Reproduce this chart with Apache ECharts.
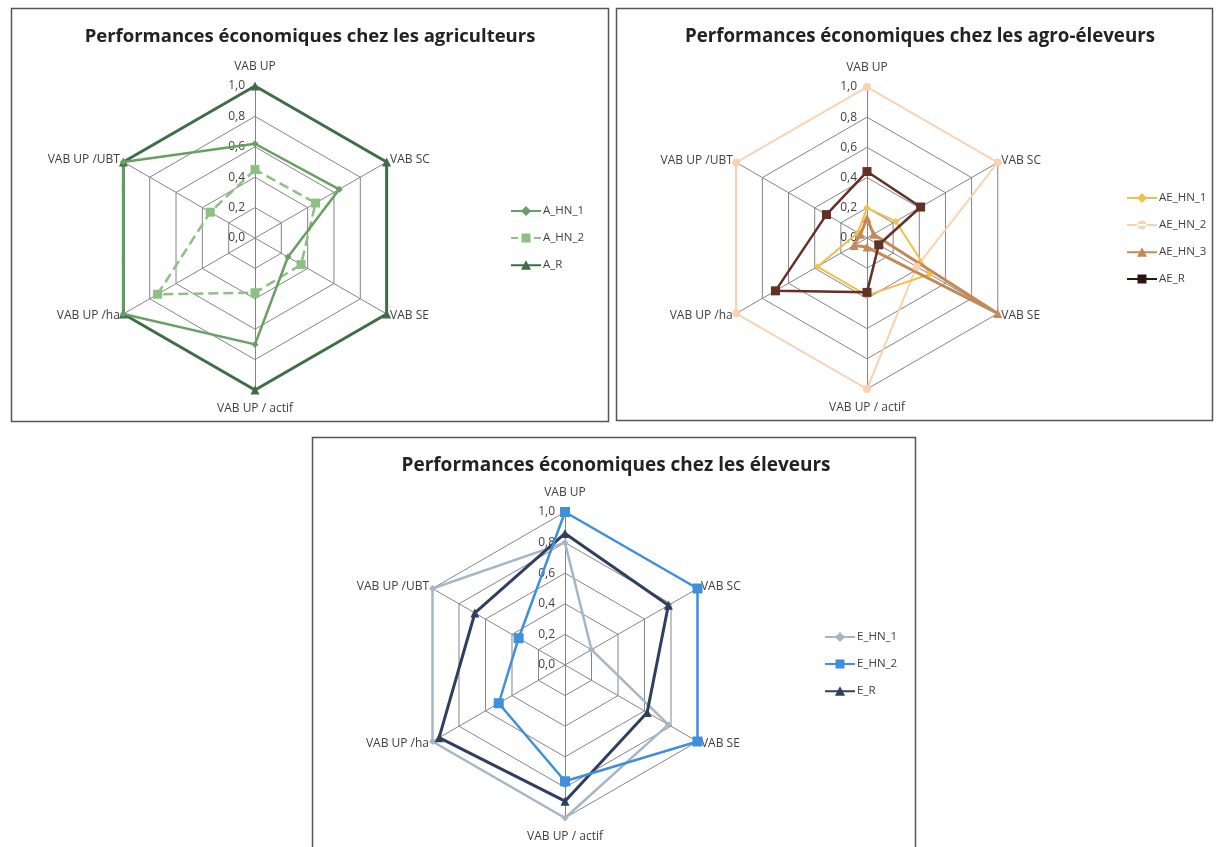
<!DOCTYPE html>
<html>
<head>
<meta charset="utf-8">
<script src="https://cdn.jsdelivr.net/npm/echarts@6/dist/echarts.min.js"></script>
<style>
  html, body { margin: 0; padding: 0; background: #ffffff; }
  #chart { width: 1218px; height: 847px; }
</style>
</head>
<body>
<div id="chart"></div>
<script>
// Axes of every radar, listed clockwise from the top
const categories = ['VAB UP', 'VAB SC', 'VAB SE', 'VAB UP / actif', 'VAB UP /ha', 'VAB UP /UBT'];
const tickLabels = ['0,0', '0,2', '0,4', '0,6', '0,8', '1,0'];

// Agriculteurs
const A_HN_1 = [0.62, 0.64, 0.25, 0.70, 1.00, 1.00];
const A_HN_2 = [0.45, 0.46, 0.35, 0.36, 0.74, 0.34];
const A_R    = [1.00, 1.00, 1.00, 1.00, 1.00, 1.00];

// Agro-éleveurs
const AE_HN_1 = [0.20, 0.22, 0.48, 0.38, 0.38, 0.07];
const AE_HN_2 = [1.00, 1.00, 0.38, 1.00, 1.00, 1.00];
const AE_HN_3 = [0.13, 0.05, 1.00, 0.06, 0.10, 0.05];
const AE_R    = [0.44, 0.41, 0.09, 0.36, 0.70, 0.31];

// Éleveurs
const E_HN_1 = [0.80, 0.20, 0.78, 1.00, 1.00, 1.00];
const E_HN_2 = [1.00, 1.00, 1.00, 0.76, 0.50, 0.35];
const E_R    = [0.86, 0.78, 0.62, 0.89, 0.95, 0.68];

// ECharts lays radar indicators out counter-clockwise; reorder so they read clockwise
function clockwise(arr) {
  return [arr[0]].concat(arr.slice(1).reverse());
}

const FONT = "'Open Sans', 'Liberation Sans', sans-serif";
const GRID = '#858585';
const TEXT = '#404040';

function radarAt(center, radius) {
  return {
    center: center,
    radius: radius,
    startAngle: 90,
    splitNumber: 5,
    shape: 'polygon',
    indicator: clockwise(categories).map((name, i) => ({
      name: name,
      min: 0,
      max: 1,
      axisLabel: { show: i === 0 }
    })),
    axisName: {
      color: TEXT,
      fontFamily: FONT,
      fontSize: 12,
      formatter: (name) => {
        if (name === 'VAB UP') return '{top|' + name + '}';
        if (name === 'VAB UP / actif') return '{bottom|' + name + '}';
        return name;
      },
      rich: {
        top: { padding: [0, 0, 9, 0], fontFamily: FONT, fontSize: 12, color: TEXT },
        bottom: { padding: [9, 0, 0, 0], fontFamily: FONT, fontSize: 12, color: TEXT }
      }
    },
    nameGap: 4,
    axisLine: { show: true, lineStyle: { color: GRID, width: 1 } },
    splitLine: { show: true, lineStyle: { color: GRID, width: 1 } },
    splitArea: { show: false },
    axisTick: { show: false },
    axisLabel: {
      show: false,
      color: TEXT,
      fontFamily: FONT,
      fontSize: 12,
      margin: 10,
      formatter: (v) => tickLabels[Math.round(v / 0.2)]
    }
  };
}

// Legend icons: a short line with the series marker in the middle
const ICON = {
  diamond:  'path://M0,4H30V6H0Z M15,0L20,5L15,10L10,5Z',
  square:   'path://M0,4H30V6H0Z M10.5,0.5H19.5V9.5H10.5Z',
  dashSq:   'path://M0,4H7V6H0Z M23,4H30V6H23Z M10.5,0.5H19.5V9.5H10.5Z',
  triangle: 'path://M0,4H30V6H0Z M15,0L20,9.5L10,9.5Z',
  circle:   'path://M0,4H30V6H0Z M10.5,5A4.5,4.5 0 1,0 19.5,5A4.5,4.5 0 1,0 10.5,5Z'
};

function series(radarIndex, name, values, color, symbol, symbolSize, width, dashed) {
  return {
    type: 'radar',
    radarIndex: radarIndex,
    name: name,
    symbol: symbol,
    symbolSize: symbolSize,
    itemStyle: { color: color },
    lineStyle: { color: color, width: width, type: dashed ? 'dashed' : 'solid' },
    areaStyle: null,
    z: 2,
    data: [{ name: name, value: clockwise(values) }]
  };
}

function legendAt(left, top, items) {
  return {
    orient: 'vertical',
    left: left,
    top: top,
    itemWidth: 30,
    itemHeight: 10,
    itemGap: 15,
    textStyle: { color: TEXT, fontFamily: FONT, fontSize: 11.5, padding: [0, 0, 0, -3] },
    data: items.map(([name, icon, color]) => ({
      name: name,
      icon: ICON[icon],
      itemStyle: { color: color, borderWidth: 0 }
    }))
  };
}

function titleAt(text, cx, top, size) {
  return {
    text: text,
    left: cx,
    top: top,
    textAlign: 'center',
    textStyle: { fontFamily: FONT, fontWeight: 'bold', fontSize: size, color: '#222222' }
  };
}

const C = {
  a1: '#67a062', a2: '#8dc083', ar: '#3e6e48',
  ae1: '#f0c04c', ae2: '#f9d2b2', ae3: '#c48a55', aer: '#642f24',
  e1: '#a4b6c8', e2: '#3f8fdf', er: '#2e3f60'
};

const chart = echarts.init(document.getElementById('chart'), null, { renderer: 'canvas' });

chart.setOption({
  backgroundColor: '#ffffff',
  animation: false,
  title: [
    titleAt('Performances économiques chez les agriculteurs', 305, 22, 18.5),
    titleAt('Performances économiques chez les agro-éleveurs', 915, 22, 18.7),
    titleAt('Performances économiques chez les éleveurs', 611, 451, 19)
  ],
  legend: [
    legendAt(506, 200, [['A_HN_1', 'diamond', C.a1], ['A_HN_2', 'dashSq', C.a2], ['A_R', 'triangle', C.ar]]),
    legendAt(1122, 187, [['AE_HN_1', 'diamond', C.ae1], ['AE_HN_2', 'circle', C.ae2], ['AE_HN_3', 'triangle', C.ae3], ['AE_R', 'square', '#2a1510']]),
    legendAt(820, 626, [['E_HN_1', 'diamond', C.e1], ['E_HN_2', 'square', C.e2], ['E_R', 'triangle', C.er]])
  ],
  radar: [
    radarAt([255, 238], 152),
    radarAt([867, 238], 151),
    radarAt([565, 665], 153)
  ],
  series: [
    series(0, 'A_R', A_R, C.ar, 'triangle', 9, 3),
    series(0, 'A_HN_2', A_HN_2, C.a2, 'rect', 9, 2.5, true),
    series(0, 'A_HN_1', A_HN_1, C.a1, 'diamond', 7, 2.5),

    series(1, 'AE_HN_2', AE_HN_2, C.ae2, 'circle', 8, 2),
    series(1, 'AE_HN_1', AE_HN_1, C.ae1, 'diamond', 7, 2),
    series(1, 'AE_HN_3', AE_HN_3, C.ae3, 'triangle', 9, 3),
    series(1, 'AE_R', AE_R, C.aer, 'rect', 9, 2.5),

    series(2, 'E_HN_1', E_HN_1, C.e1, 'diamond', 7, 2.5),
    series(2, 'E_R', E_R, C.er, 'triangle', 9, 3),
    series(2, 'E_HN_2', E_HN_2, C.e2, 'rect', 10, 2.5)
  ],
  graphic: [
    { type: 'rect', shape: { x: 11.5, y: 8.5, width: 597, height: 413 }, style: { fill: null, stroke: '#555555', lineWidth: 1.5 }, silent: true, z: -1 },
    { type: 'rect', shape: { x: 616.5, y: 8.5, width: 596, height: 412 }, style: { fill: null, stroke: '#555555', lineWidth: 1.5 }, silent: true, z: -1 },
    { type: 'rect', shape: { x: 312.5, y: 437.5, width: 603, height: 420 }, style: { fill: null, stroke: '#555555', lineWidth: 1.5 }, silent: true, z: -1 }
  ]
});
</script>
</body>
</html>
